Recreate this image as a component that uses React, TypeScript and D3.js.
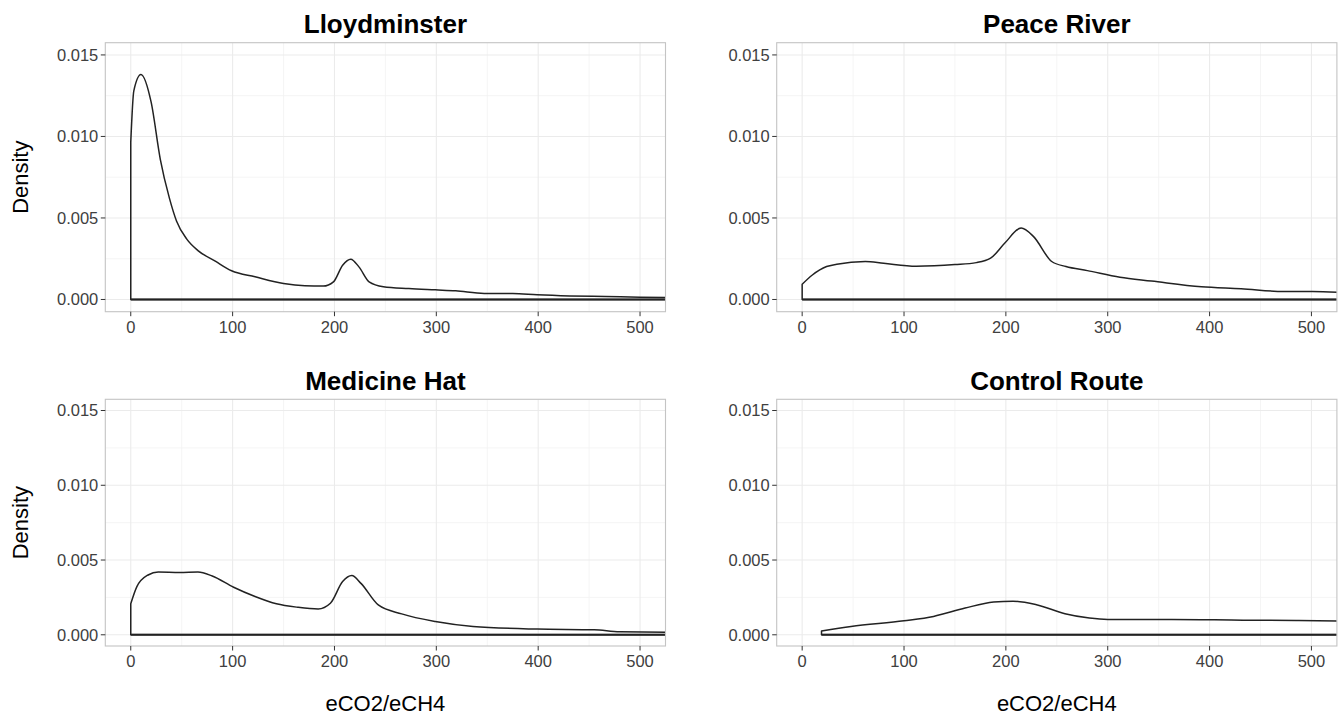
import React from 'react';
import * as d3 from 'd3';

const W = 1341;
const H = 716;
const FONT = '"Liberation Sans", Arial, Helvetica, sans-serif';

const panelNames = ['Lloydminster', 'Peace River', 'Medicine Hat', 'Control Route'];

// density curves (x = eCO2/eCH4, y = density)
const lloydX = [0, 3, 10, 20, 29, 38, 45, 55, 66, 83, 99, 122, 150, 171, 189, 199, 208, 216, 224, 234, 248, 273, 299, 319, 347, 375, 399, 431, 466, 500, 540];
const lloydY = [0.00965, 0.0128, 0.0138, 0.0121, 0.0086, 0.0062, 0.0048, 0.0037, 0.0030, 0.00235, 0.00176, 0.00139, 0.00098, 0.00084, 0.00082, 0.00108, 0.0021, 0.00247, 0.0020, 0.00108, 0.00078, 0.00067, 0.00059, 0.00053, 0.00037, 0.00037, 0.00029, 0.00022, 0.00018, 0.00014, 0.00011];

const peaceX = [0, 10, 24, 34, 62, 80, 112, 150, 171, 185, 199, 215, 227, 245, 259, 280, 312, 343, 392, 431, 473, 501, 540];
const peaceY = [0.00093, 0.0015, 0.00202, 0.00216, 0.00233, 0.00222, 0.00204, 0.00214, 0.00226, 0.00253, 0.00346, 0.00438, 0.00387, 0.00233, 0.00202, 0.00177, 0.00136, 0.00113, 0.00078, 0.00066, 0.00049, 0.00049, 0.00038];

const medX = [0, 6, 17, 27, 48, 66, 80, 101, 122, 143, 164, 184, 196, 208, 217, 226, 243, 266, 299, 336, 399, 455, 480, 540];
const medY = [0.00207, 0.00322, 0.0040, 0.0042, 0.00416, 0.0042, 0.00393, 0.00318, 0.00256, 0.00207, 0.00184, 0.00173, 0.00211, 0.00356, 0.00396, 0.00344, 0.0020, 0.0014, 0.00089, 0.00056, 0.00038, 0.00033, 0.0002, 0.00017];

const ctrlX = [19, 48, 100, 129, 160, 188, 207, 230, 258, 282, 300, 363, 433, 485, 540];
const ctrlY = [0.00025, 0.00056, 0.00094, 0.00123, 0.00179, 0.00219, 0.00225, 0.00201, 0.00141, 0.00112, 0.00103, 0.00103, 0.00098, 0.00096, 0.00091];

const seriesX = [lloydX, peaceX, medX, ctrlX];
const seriesY = [lloydY, peaceY, medY, ctrlY];

const xTicks = [0, 100, 200, 300, 400, 500];
const xMinor = [50, 150, 250, 350, 450];
const yTicks = [0, 0.005, 0.01, 0.015];
const yMinor = [0.0025, 0.0075, 0.0125];

const cols = [105.3, 776.7];
const rows = [[42.7, 311.7], [399.3, 646]];
const panelW = 560.2;

function Panel({ idx }: { idx: number }) {
  const left = cols[idx % 2];
  const [top, bottom] = rows[Math.floor(idx / 2)];
  const x = d3.scaleLinear().domain([-25, 525]).range([left, left + panelW]);
  const y = d3.scaleLinear().domain([-0.00075, 0.01575]).range([bottom, top]);
  const xs = seriesX[idx];
  const ys = seriesY[idx];
  const pts: [number, number][] = xs.map((v, i) => [v, ys[i]]);
  const line = d3.line<[number, number]>()
    .x(d => x(d[0]))
    .y(d => y(d[1]))
    .curve(d3.curveMonotoneX);
  const curve = line(pts) || '';
  const x0 = x(xs[0]);
  const xEnd = x(xs[xs.length - 1]);
  // closed outline like geom_density: up the left side, along the curve, back along zero
  const outline = `M${x0},${y(0)}` + curve.replace(/^M/, 'L') + `L${xEnd},${y(0)}Z`;
  const clipId = `clip${idx}`;
  const showYTitle = idx % 2 === 0;
  const showXTitle = idx >= 2;
  return (
    <g>
      <defs>
        <clipPath id={clipId}>
          <rect x={left} y={top} width={panelW} height={bottom - top} />
        </clipPath>
      </defs>
      <rect x={left} y={top} width={panelW} height={bottom - top} fill="#fff" />
      {xMinor.map(t => (
        <line key={'xm' + t} x1={x(t)} x2={x(t)} y1={top} y2={bottom} stroke="#f3f3f3" strokeWidth={0.8} />
      ))}
      {yMinor.map(t => (
        <line key={'ym' + t} x1={left} x2={left + panelW} y1={y(t)} y2={y(t)} stroke="#f3f3f3" strokeWidth={0.8} />
      ))}
      {xTicks.map(t => (
        <line key={'xg' + t} x1={x(t)} x2={x(t)} y1={top} y2={bottom} stroke="#ebebeb" strokeWidth={1.1} />
      ))}
      {yTicks.map(t => (
        <line key={'yg' + t} x1={left} x2={left + panelW} y1={y(t)} y2={y(t)} stroke="#ebebeb" strokeWidth={1.1} />
      ))}
      <line x1={x0} x2={left + panelW} y1={y(0)} y2={y(0)} stroke="#666" strokeWidth={2.4} clipPath={`url(#${clipId})`} />
      <path d={outline} fill="none" stroke="#222" strokeWidth={1.5} strokeLinejoin="round" clipPath={`url(#${clipId})`} />
      <rect x={left} y={top} width={panelW} height={bottom - top} fill="none" stroke="#c4c4c4" strokeWidth={1.1} />
      {xTicks.map(t => (
        <g key={'xt' + t}>
          <line x1={x(t)} x2={x(t)} y1={bottom} y2={bottom + 4.5} stroke="#333" strokeWidth={1} />
          <text x={x(t)} y={bottom + 21.3} textAnchor="middle" fontSize={16.5} fill="#404040" fontFamily={FONT}>{t}</text>
        </g>
      ))}
      {yTicks.map(t => (
        <g key={'yt' + t}>
          <line x1={left - 4.5} x2={left} y1={y(t)} y2={y(t)} stroke="#333" strokeWidth={1} />
          <text x={left - 7} y={y(t)} dy="0.35em" textAnchor="end" fontSize={16.5} fill="#404040" fontFamily={FONT}>{d3.format('.3f')(t)}</text>
        </g>
      ))}
      <text x={left + panelW / 2} y={top - 9.5} textAnchor="middle" fontSize={26} fontWeight="bold" fill="#000" fontFamily={FONT}>{panelNames[idx]}</text>
      {showYTitle && (
        <text transform={`translate(27.5,${(top + bottom) / 2}) rotate(-90)`} textAnchor="middle" fontSize={22} fill="#000" fontFamily={FONT}>Density</text>
      )}
      {showXTitle && (
        <text x={left + panelW / 2} y={711} textAnchor="middle" fontSize={22} fill="#000" fontFamily={FONT}>eCO2/eCH4</text>
      )}
    </g>
  );
}

export default function App() {
  return (
    <svg width={W} height={H} style={{ position: 'absolute', left: 0, top: 0, background: '#fff' }}>
      <rect width={W} height={H} fill="#fff" />
      {panelNames.map((_, i) => <Panel key={i} idx={i} />)}
    </svg>
  );
}
